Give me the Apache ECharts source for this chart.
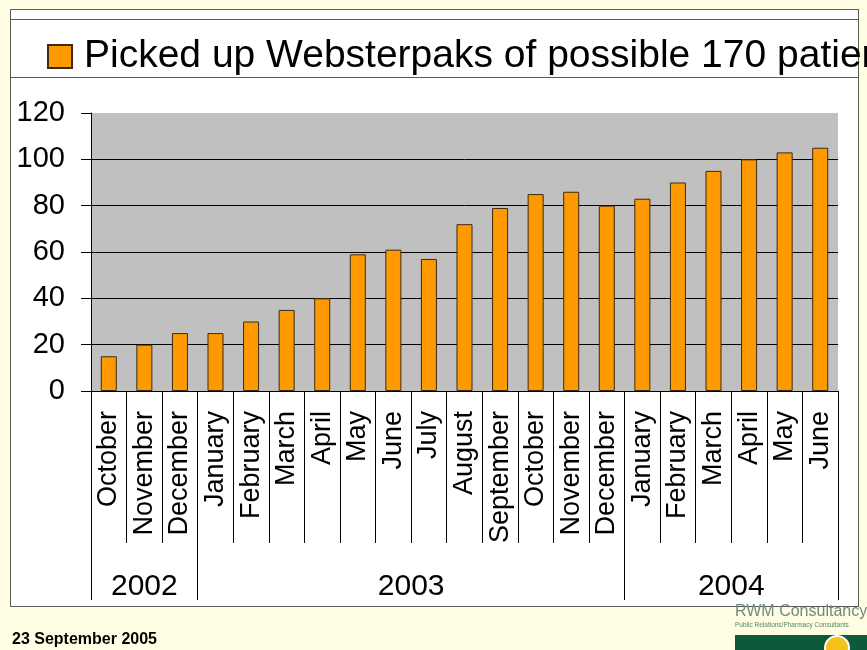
<!DOCTYPE html>
<html>
<head>
<meta charset="utf-8">
<script src="https://cdn.jsdelivr.net/npm/echarts@6/dist/echarts.min.js"></script>
<style>
  html, body { margin: 0; padding: 0; background: #FFFDE2; overflow: hidden; }
  #frame { position: absolute; left: 10px; top: 9px; width: 847px; height: 596px;
           background: #fff; border: 1.5px solid #5a5a5a; }
  #legendbox { position: absolute; left: 10px; top: 19px; width: 849px; height: 57px;
           border-top: 1.5px solid #5a5a5a; border-bottom: 1.5px solid #5a5a5a; }
  #chart { position: absolute; left: 0; top: 0; width: 867px; height: 650px; }
</style>
</head>
<body>
<div id="frame"></div>
<div id="legendbox"></div>
<div id="chart"></div>
<script>
// ---- data ----
var months = ['October','November','December','January','February','March','April','May','June','July','August','September','October','November','December','January','February','March','April','May','June'];
var values = [15, 20, 25, 25, 30, 35, 40, 59, 61, 57, 72, 79, 85, 86, 80, 83, 90, 95, 100, 103, 105];
var years = ['2002', '2003', '2004'];
var yearSpans = [3, 12, 6];
var seriesName = 'Picked up Websterpaks of possible 170 patients';
var yTicks = { min: 0, max: 120, interval: 20 };
var footerDate = '23 September 2005';

// derived year boundaries and centres (in category units)
var yearBounds = [0], yearCentres = [];
yearSpans.forEach(function (s, i) {
  var start = yearBounds[yearBounds.length - 1];
  yearCentres.push(start + s / 2);
  yearBounds.push(start + s);
});

var FONT = '"Liberation Sans", Arial, sans-serif';
var chart = echarts.init(document.getElementById('chart'), null, { renderer: 'canvas' });

chart.setOption({
  animation: false,
  legend: {
    show: true,
    left: 47, top: 37, padding: 0,
    icon: 'rect', itemWidth: 24, itemHeight: 23,
    data: [seriesName],
    textStyle: { fontFamily: FONT, fontSize: 39, color: '#000', padding: [0, 0, 0, 7] }
  },
  grid: {
    left: 91, right: 29, top: 113, bottom: 259,
    show: true, backgroundColor: '#C0C0C0', borderWidth: 0
  },
  xAxis: [
    {
      type: 'category',
      data: months,
      boundaryGap: true,
      axisLine: { show: true, lineStyle: { color: '#000', width: 1 } },
      axisTick: { show: true, interval: 0, length: 152, lineStyle: { color: '#000', width: 1 } },
      axisLabel: { interval: 0, rotate: 90, margin: 20, fontFamily: FONT, fontSize: 27, color: '#000' },
      splitLine: { show: false }
    },
    {
      type: 'value',
      min: 0, max: months.length,
      position: 'bottom',
      axisLine: { show: false },
      axisTick: { show: true, customValues: yearBounds, length: 209, lineStyle: { color: '#000', width: 1 } },
      axisLabel: {
        customValues: yearCentres, margin: 181, fontFamily: FONT, fontSize: 30, color: '#000',
        formatter: function (v) {
          var i = yearCentres.indexOf(v);
          return i >= 0 ? years[i] : '';
        }
      },
      splitLine: { show: false }
    }
  ],
  yAxis: {
    type: 'value',
    min: yTicks.min, max: yTicks.max, interval: yTicks.interval,
    axisLine: { show: true, lineStyle: { color: '#000', width: 1 } },
    axisTick: { show: true, length: 10, lineStyle: { color: '#000', width: 1 } },
    axisLabel: { margin: 26, fontFamily: FONT, fontSize: 29, color: '#000' },
    splitLine: { show: true, showMaxLine: false, lineStyle: { color: '#000', width: 1 } }
  },
  series: [{
    name: seriesName,
    type: 'bar',
    xAxisIndex: 0,
    data: values,
    barWidth: '45%',
    itemStyle: { color: '#FF9900', borderColor: '#3b2a12', borderWidth: 1 }
  }],
  graphic: [
    { type: 'text', left: 12, top: 632,
      style: { text: footerDate, font: 'bold 16px ' + FONT, fill: '#000' } },
    { type: 'text', left: 735, top: 604,
      style: { text: 'RWM Consultancy', font: '16px ' + FONT, fill: '#6f8a84' } },
    { type: 'text', left: 735, top: 622,
      style: { text: 'Public Relations/Pharmacy Consultants', font: '6.5px ' + FONT, fill: '#4f8a5c' } },
    { type: 'rect', shape: { x: 735, y: 635, width: 132, height: 15 }, style: { fill: '#0d5a3a' } },
    { type: 'circle', shape: { cx: 837, cy: 648, r: 12 }, style: { fill: '#F4C21A', stroke: '#ffffff', lineWidth: 2 } }
  ]
});
</script>
</body>
</html>
